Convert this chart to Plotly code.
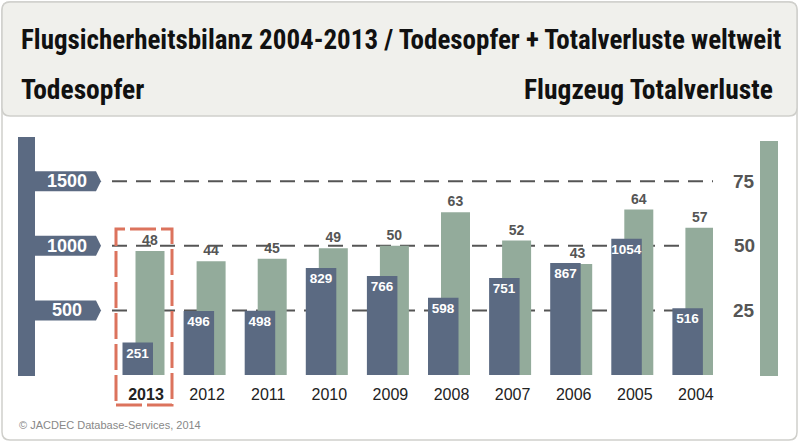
import plotly.graph_objects as go

years = ["2013", "2012", "2011", "2010", "2009", "2008", "2007", "2006", "2005", "2004"]
todesopfer = [251, 496, 498, 829, 766, 598, 751, 867, 1054, 516]
totalverluste = [48, 44, 45, 49, 50, 63, 52, 43, 64, 57]
left_ticks = [500, 1000, 1500]
right_ticks = [25, 50, 75]

W, H = 800, 444
PL, PR, PT, PB = 112, 713, 145, 375   # plot area in pixels
Y2MAX = 1780
YMAX = 89

DARK = "#5b6a82"
GREEN = "#93ab9b"
RED = "#dc735d"
NARROW = "Roboto Condensed, Liberation Sans Narrow, DejaVu Sans Condensed, Arial Narrow, sans-serif"
SANS = "Liberation Sans, Arial, sans-serif"

def px(x):
    return (x - PL) / (PR - PL)

def py(y):
    return (PB - y) / (PB - PT)

def rrect(x0, y0, x1, y1, r):
    pts = [
        f"M{px(x0 + r)},{py(y0)}",
        f"L{px(x1 - r)},{py(y0)}",
        f"Q{px(x1)},{py(y0)} {px(x1)},{py(y0 + r)}",
        f"L{px(x1)},{py(y1 - r)}",
        f"Q{px(x1)},{py(y1)} {px(x1 - r)},{py(y1)}",
        f"L{px(x0 + r)},{py(y1)}",
        f"Q{px(x0)},{py(y1)} {px(x0)},{py(y1 - r)}",
        f"L{px(x0)},{py(y0 + r)}",
        f"Q{px(x0)},{py(y0)} {px(x0 + r)},{py(y0)}",
        "Z",
    ]
    return " ".join(pts)

cat_px = 61.1
fig = go.Figure()

fig.add_trace(go.Bar(
    x=list(range(len(years))), y=totalverluste, yaxis="y",
    marker=dict(color=GREEN, line=dict(width=0)),
    offset=-10.5 / cat_px, width=29 / cat_px,
    text=[str(v) for v in totalverluste], textposition="outside", textangle=0,
    textfont=dict(family=SANS, size=14, color="#555555", weight="bold"),
    cliponaxis=False, constraintext="none", hoverinfo="skip",
))
fig.add_trace(go.Bar(
    x=list(range(len(years))), y=todesopfer, yaxis="y2",
    marker=dict(color=DARK, line=dict(width=0)),
    offset=-23.5 / cat_px, width=30.5 / cat_px,
    text=[str(v) for v in todesopfer], textposition="inside", textangle=0,
    insidetextanchor="end",
    textfont=dict(family=SANS, size=13.5, color="white", weight="bold"),
    cliponaxis=False, constraintext="none", hoverinfo="skip",
))

shapes = []
shapes.append(dict(type="path", xref="paper", yref="paper", path=rrect(2, 2, 797, 440, 8),
                   fillcolor="white", line=dict(color="#cfcfcb", width=1.5), layer="below"))
shapes.append(dict(type="path", xref="paper", yref="paper", path=rrect(2, 2, 797, 116, 8),
                   fillcolor="#f0f0ec", line=dict(color="#cfcfcb", width=1.5), layer="below"))
for v in right_ticks:
    shapes.append(dict(type="line", xref="paper", yref="y", x0=0, x1=1, y0=v, y1=v,
                       line=dict(color="#555555", width=2, dash="15px,9px"), layer="below"))
shapes.append(dict(type="rect", xref="paper", yref="paper", x0=px(18), x1=px(35), y0=py(376), y1=py(137),
                   fillcolor=DARK, line=dict(width=0)))
shapes.append(dict(type="rect", xref="paper", yref="paper", x0=px(760), x1=px(778), y0=py(376), y1=py(141),
                   fillcolor=GREEN, line=dict(width=0)))
hu = 10 * Y2MAX / (PB - PT)
for v in left_ticks:
    path = (f"M{px(34)},{v - hu} L{px(96)},{v - hu} L{px(101)},{v} "
            f"L{px(96)},{v + hu} L{px(34)},{v + hu} Z")
    shapes.append(dict(type="path", xref="paper", yref="y2", path=path,
                       fillcolor=DARK, line=dict(width=0)))
shapes.append(dict(type="rect", xref="x", yref="paper",
                   x0=-30 / cat_px, x1=26 / cat_px, y0=py(405), y1=py(229),
                   line=dict(color=RED, width=3, dash="26px,5px"), fillcolor="rgba(0,0,0,0)"))

annotations = []
for v in left_ticks:
    annotations.append(dict(xref="paper", yref="y2", x=px(67), y=v, text=str(v), showarrow=False,
                            font=dict(family=SANS, size=18, color="white", weight="bold"),
                            xanchor="center", yanchor="middle"))
for v in right_ticks:
    annotations.append(dict(xref="paper", yref="y", x=px(744), y=v, text=str(v), showarrow=False,
                            font=dict(family=SANS, size=19, color="#555555", weight="bold"),
                            xanchor="center", yanchor="middle"))
annotations.append(dict(xref="paper", yref="paper", x=px(19), y=py(40),
                        text="Flugsicherheitsbilanz 2004-2013 / Todesopfer + Totalverluste weltweit",
                        showarrow=False, xanchor="left", yanchor="middle",
                        font=dict(family=NARROW, size=27, color="#111111", weight="bold")))
annotations.append(dict(xref="paper", yref="paper", x=px(19), y=py(89), text="Todesopfer",
                        showarrow=False, xanchor="left", yanchor="middle",
                        font=dict(family=NARROW, size=27.5, color="#111111", weight="bold")))
annotations.append(dict(xref="paper", yref="paper", x=px(775), y=py(89), text="Flugzeug Totalverluste",
                        showarrow=False, xanchor="right", yanchor="middle",
                        font=dict(family=NARROW, size=27.5, color="#111111", weight="bold")))
annotations.append(dict(xref="paper", yref="paper", x=px(17), y=py(425),
                        text="© JACDEC Database-Services, 2014",
                        showarrow=False, xanchor="left", yanchor="middle",
                        font=dict(family=SANS, size=11, color="#888888")))

ticktext = ["<b>2013</b>"] + years[1:]
left_off = (146 - PL) / cat_px
right_off = (PR - (146 + 9 * cat_px)) / cat_px

fig.update_layout(
    width=W, height=H,
    margin=dict(l=PL, r=W - PR, t=PT, b=H - PB, pad=0),
    paper_bgcolor="white", plot_bgcolor="rgba(0,0,0,0)",
    barmode="overlay", showlegend=False,
    shapes=shapes, annotations=annotations,
    xaxis=dict(range=[-left_off, 9 + right_off], tickmode="array",
               tickvals=list(range(len(years))), ticktext=ticktext,
               tickfont=dict(family=SANS, size=16, color="#222222"),
               showgrid=False, zeroline=False, showline=False, ticks="",
               ticklabelstandoff=8, fixedrange=True),
    yaxis=dict(range=[0, YMAX], showgrid=False, zeroline=False, showticklabels=False,
               showline=False, fixedrange=True),
    yaxis2=dict(range=[0, Y2MAX], overlaying="y", side="left", showgrid=False,
                zeroline=False, showticklabels=False, showline=False, fixedrange=True),
)

fig.write_html("out.html", config={"displayModeBar": False},
               post_script="document.body.style.margin='0';document.body.style.overflow='hidden';")
